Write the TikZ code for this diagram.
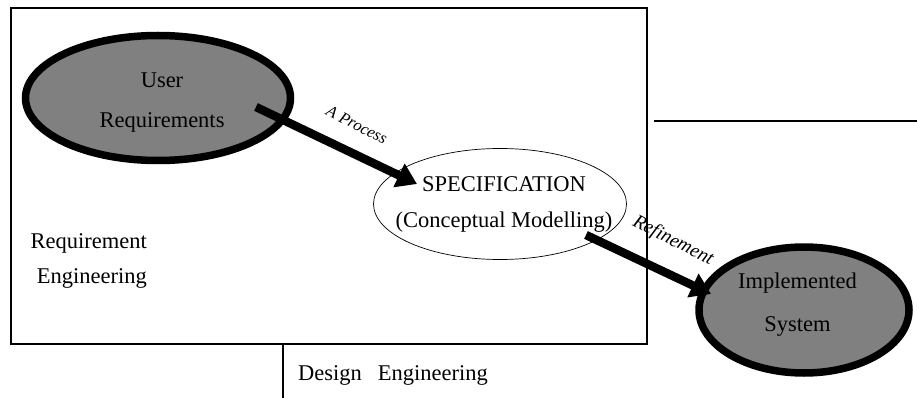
\documentclass[tikz,border=0pt]{standalone}
\usepackage{fontspec}
\setmainfont{Liberation Serif}
\usetikzlibrary{shapes.geometric,arrows.meta}
\tikzset{
  thickell/.style={ellipse, draw=black, line width=7.5pt, fill=black!50, inner sep=0pt},
  thinell/.style={ellipse, draw=black, line width=0.7pt, fill=white, inner sep=0pt},
  txt/.style={inner sep=0pt, align=center},
  bigarrow/.style={line width=8.5pt, -{Triangle[length=20pt,width=25pt]}},
  lbl/.style={inner sep=0pt, font=\fontsize{16.5}{18}\selectfont\itshape},
  frame/.style={line width=2.4pt},
  rule/.style={line width=2pt}
}
\begin{document}
\begin{tikzpicture}[x=1pt,y=-1pt]
\useasboundingbox (0,0) rectangle (917,398);
% frame
\draw[frame] (11,8) rectangle (647,344);
\draw[rule] (654,121) -- (917,121);
\draw[rule] (283,344) -- (283,398);
% ellipses
\node[thickell, minimum width=265pt, minimum height=125pt] (ur) at (158,98) {};
\node[thinell, minimum width=253pt, minimum height=111pt] (spec) at (500,204) {};
\node[thickell, minimum width=210pt, minimum height=126pt] (impl) at (804,310) {};
% texts
\node[txt, font=\fontsize{22.5}{40}\selectfont] (urt) at (162,103) {User\\Requirements};
\node[txt, font=\fontsize{22.5}{36}\selectfont] (spect) at (504,204) {SPECIFICATION\\(Conceptual Modelling)};
\node[txt, font=\fontsize{22.5}{43}\selectfont] (implt) at (797.5,304.5) {Implemented\\System};
\node[inner sep=0pt, align=right, anchor=east, font=\fontsize{22.5}{35}\selectfont] (re) at (147,260.5) {Requirement\\Engineering};
\node[inner sep=0pt, anchor=base west, font=\fontsize{22.5}{26}\selectfont] (de) at (298,380) {Design\hspace{16pt}Engineering};
% arrows
\coordinate (a1s) at (256,107);
\coordinate (a1e) at (417,184);
\coordinate (a2s) at (586,235);
\coordinate (a2e) at (711,294);
\draw[bigarrow] (a1s) -- (a1e);
\draw[bigarrow] (a2s) -- (a2e);
% labels
\node[lbl, rotate=-27] (proc) at (357,125) {A Process};
\node[lbl, rotate=-27, font=\fontsize{19.5}{20}\selectfont\itshape] (ref) at (673,241) {Refinement};
\end{tikzpicture}
\end{document}
